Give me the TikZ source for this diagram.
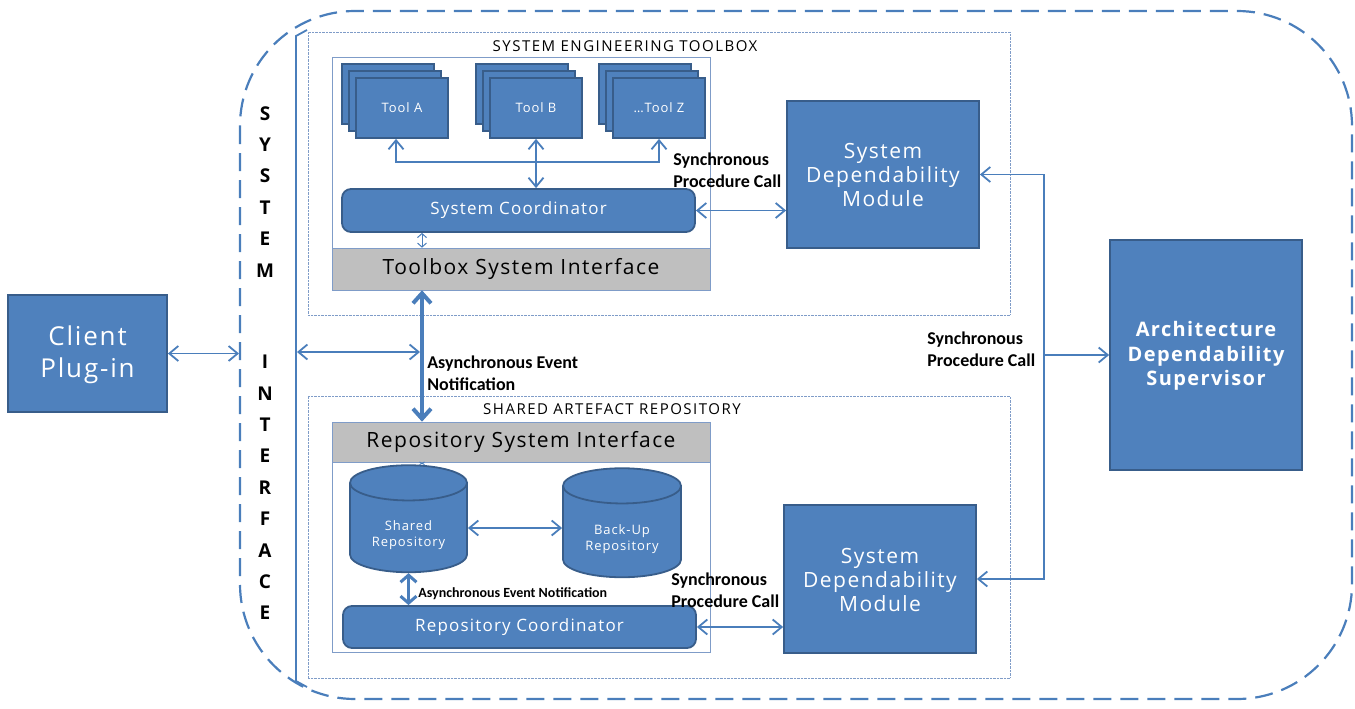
\documentclass[tikz,border=0pt]{standalone}
\usepackage{fontspec}
\setmainfont{Open Sans}
\newfontfamily\boxfont[LetterSpace=7]{Open Sans}
\newfontfamily\capsfont[LetterSpace=10]{Open Sans}
\newfontfamily\notefont{Carlito}
\usepackage{tikz}
\usetikzlibrary{arrows.meta,positioning,calc,shapes.geometric}

\definecolor{modfill}{HTML}{4F81BD}
\definecolor{modedge}{HTML}{385D8A}
\definecolor{linkcol}{HTML}{4A7EBB}
\definecolor{ifgray}{HTML}{BFBFBF}
\definecolor{framecol}{HTML}{7F9CC8}

\newcommand{\sz}[2]{\fontsize{#1}{#2}\selectfont}

\begin{document}
\begin{tikzpicture}[x=1pt, y=-1pt, >={Straight Barb[length=9pt,width=15pt]}, semithick]
\tikzstyle{module}=[draw=modedge, line width=1.8pt, fill=modfill, text=white, align=center, inner sep=0pt]
\tikzstyle{coordbox}=[module, rounded corners=9pt, minimum width=353, minimum height=43, font=\boxfont\sz{17}{20}]
\tikzstyle{tool}=[module, minimum width=92, minimum height=60, font=\boxfont\sz{13}{16}]
\tikzstyle{sdm}=[module, minimum width=192, minimum height=147, font=\boxfont\sz{21}{24}]
\tikzstyle{db}=[module, cylinder, shape border rotate=90, text width=110pt, aspect=0.32]
\tikzstyle{dbtext}=[text=white, align=center, inner sep=0pt, font=\boxfont\sz{13}{16}]
\tikzstyle{panel}=[draw=framecol, minimum width=378, inner sep=0pt]
\tikzstyle{iface}=[panel, fill=ifgray, font=\boxfont\sz{21}{25}]
\tikzstyle{group}=[draw=framecol, densely dotted, thin, minimum width=702, inner sep=0pt]
\tikzstyle{letter}=[font=\bfseries\sz{19}{22}, inner sep=0pt]
\tikzstyle{link}=[<->, draw=linkcol, line width=1.8pt]
\tikzstyle{note}=[font=\notefont\bfseries\sz{18}{22}, align=left, inner sep=0pt]
\useasboundingbox (0,0) rectangle (1355,709);

\draw[draw=linkcol, line width=2.2pt, dash pattern=on 18pt off 9pt, rounded corners=115pt] (240,11) rectangle (1352,699);
\draw[draw=linkcol, line width=1.8pt] (307,30) -- (296,36) -- (296,681) -- (307,687);

\foreach \ch [count=\i] in {S,Y,S,T,E,M}
  \node[letter] (up\i) at (265,82+31.4*\i) {\ch};
\foreach \ch [count=\i] in {I,N,T,E,R,F,A,C,E}
  \node[letter] (lo\i) at (265,330.5+31.4*\i) {\ch};

\node[module, minimum width=159, minimum height=117, font=\boxfont\sz{26}{32}] (client) at (87.5,353.5) {\strut Client\\Plug-in};

% toolbox
\node[group, minimum height=283] (toolbox) at (659,173.5) {};
\node[font=\capsfont\sz{15}{18}] (tbtitle) at (625,46) {SYSTEM ENGINEERING TOOLBOX};
\node[panel, minimum height=233] (tbpanel) at (521,173.5) {};
\node[iface, minimum height=42] (tbsi) at (521,269) {Toolbox System Interface};

\foreach \nm/\lbl/\cx in {toolA/Tool A/402, toolB/Tool B/536, toolZ/\ldots{}Tool Z/659} {
  \node[tool] at (\cx-14,94) {};
  \node[tool] at (\cx-7,101) {};
  \node[tool] (\nm) at (\cx,108) {\lbl};
}

\node[coordbox] (syscoord) at (518.5,210.5) {\strut System Coordinator};
\node[sdm] (sdm1) at (883,174.5) {\strut System\\Dependability\\Module};

% repository
\node[group, minimum height=282] (repo) at (659,537) {};
\node[font=\capsfont\sz{15}{18}] (srtitle) at (612,409) {SHARED ARTEFACT REPOSITORY};
\node[panel, minimum height=230] (rppanel) at (521,537) {};
\node[iface, minimum height=40] (rsi) at (521,442) {Repository System Interface};

\node[db, minimum width=117, minimum height=107] (shared) at (408.5,528) {};
\node[dbtext] (sharedtxt) at (408.5,535) {Shared\\Repository};
\node[db, minimum width=118, minimum height=109] (backup) at (622,532) {};
\node[dbtext] (backuptxt) at (622,539) {Back-Up\\Repository};
\node[coordbox, minimum height=42] (repcoord) at (519.5,627) {\strut Repository Coordinator};
\node[sdm, minimum height=148] (sdm2) at (880,579) {\strut System\\Dependability\\Module};

\node[module, minimum width=192, minimum height=230, font=\boxfont\bfseries\sz{20}{24.5}] (ads) at (1206,355) {\strut Architecture\\Dependability\\Supervisor};

% connectors
\coordinate (dashL) at (239,352);
\coordinate (bar) at (297,352);
\coordinate (ax) at (422,352);
\coordinate (bus) at (536,162);
\coordinate (rail) at (1044,355);

\draw[link] (client.east) -- (client.east -| dashL);
\draw[link, shorten >=2pt] (bar) -- (ax);
\draw[link] (toolA.south) ++(-6,0) |- (bus) -| (toolZ.south);
\draw[link] (toolB.south) -- (toolB.south |- syscoord.north);
\draw[link, line width=1pt, >={Straight Barb[length=4pt,width=9pt]}] (syscoord.south -| ax) -- (tbsi.north -| ax);
\draw[link] (syscoord.east) -- (syscoord.east -| sdm1.west);
\draw[link, line width=4pt, >={Straight Barb[length=10pt,width=18pt]}] (tbsi.south -| ax) -- (rsi.north -| ax);

\draw[link, line width=0.8pt, >={Straight Barb[length=2pt,width=5pt]}] (rsi.south -| ax) -- (ax |- shared.north);
\draw[link] (shared.east) -- (shared.east -| backup.west);
\draw[link, line width=3pt, >={Straight Barb[length=7pt,width=16pt]}] (shared.south) -- (shared.south |- repcoord.north);
\draw[link] (repcoord.east) -- (repcoord.east -| sdm2.west);

\draw[link, ->] (rail) |- (sdm1.east);
\draw[link, ->] (rail) |- (sdm2.east);
\draw[link, ->] (rail) -- (ads.west);

\node[note, anchor=west] (sync1) at (673,170) {Synchronous\\Procedure Call};
\node[note, anchor=west] (sync2) at (671,590) {Synchronous\\Procedure Call};
\node[note, anchor=west] (sync3) at (927,349) {Synchronous\\Procedure Call};
\node[note, anchor=west] (async1) at (427,373) {Asynchronous Event\\Notification};
\node[note, anchor=west, font=\notefont\bfseries\sz{14}{16}] (async2) at (418,594) {Asynchronous Event Notification};
\end{tikzpicture}
\end{document}
